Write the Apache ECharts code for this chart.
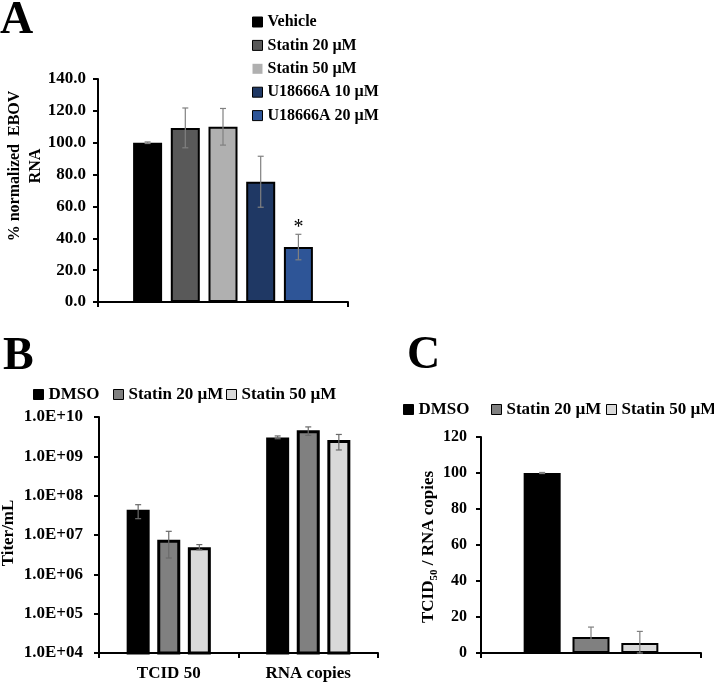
<!DOCTYPE html>
<html>
<head>
<meta charset="utf-8">
<script src="https://cdn.jsdelivr.net/npm/echarts@6/dist/echarts.min.js"></script>
<style>html,body{margin:0;padding:0;background:#fff}#c{width:714px;height:684px}</style>
</head>
<body>
<div id="c"></div>
<script>
// ---------- Panel A data ----------
const catA = [''];
const namesA = ['Vehicle', 'Statin 20 µM', 'Statin 50 µM', 'U18666A 10 µM', 'U18666A 20 µM'];
const valA = [100, 109.3, 110, 75.5, 34.5];
const errA = [0.5, 12.5, 11.5, 16, 8];
const ticksA = [0, 20, 40, 60, 80, 100, 120, 140];

// ---------- Panel B data ----------
const catB = ['TCID 50', 'RNA copies'];
const namesBC = ['DMSO', 'Statin 20 µM', 'Statin 50 µM'];
const valB_DMSO = [4.4e7, 3.0e9];
const valB_S20 = [7.6e6, 4.6e9];
const valB_S50 = [4.9e6, 2.6e9];
const lowB_DMSO = [2.6e7, 2.8e9];
const highB_DMSO = [5.9e7, 3.3e9];
const lowB_S20 = [2.6e6, 3.4e9];
const highB_S20 = [1.24e7, 5.6e9];
const lowB_S50 = [4.2e6, 1.45e9];
const highB_S50 = [5.7e6, 3.6e9];

// ---------- Panel C data ----------
const catC = [''];
const valC = [100, 8.9, 5.5];
const lowC = [99.7, 3.4, 0];
const highC = [100.3, 14.4, 12];

const colorsA = ['#000000', '#595959', '#b0b0b0', '#1f3864', '#2e5597'];
const colorsBC = ['#000000', '#808080', '#d9d9d9'];

const FF = '"Liberation Serif", "Times New Roman", serif';
const txt = (size) => ({ fontFamily: FF, fontWeight: 'bold', fontSize: size, color: '#000' });

function errSeries(xi, yi, i, n, bw, gapFrac, lows, highs, color) {
  const step = bw * (1 + gapFrac);
  const off = (i - (n - 1) / 2) * step;
  return {
    type: 'custom', name: 'err' + xi + '_' + i, xAxisIndex: xi, yAxisIndex: yi, z: 5, silent: true,
    data: lows.map((l, k) => [k, l, highs[k]]),
    encode: { x: 0, y: [1, 2] },
    renderItem(params, api) {
      const a = api.coord([api.value(0), api.value(1)]);
      const b = api.coord([api.value(0), api.value(2)]);
      const x = a[0] + off, c = 3;
      const style = { stroke: color, lineWidth: 1.2 };
      return { type: 'group', children: [
        { type: 'line', shape: { x1: x, y1: a[1], x2: x, y2: b[1] }, style },
        { type: 'line', shape: { x1: x - c, y1: a[1], x2: x + c, y2: a[1] }, style },
        { type: 'line', shape: { x1: x - c, y1: b[1], x2: x + c, y2: b[1] }, style }
      ] };
    }
  };
}

const axisLineStyle = { lineStyle: { color: '#000', width: 2 } };
const axisTickStyle = { show: true, inside: false, length: 5, lineStyle: { color: '#000', width: 2 } };

const series = [];
// Panel A
const bwA = 29, gapA = 0.30;
namesA.forEach((nm, i) => {
  series.push({
    type: 'bar', name: nm, xAxisIndex: 0, yAxisIndex: 0, data: [valA[i]],
    barWidth: bwA, barGap: (gapA * 100) + '%',
    itemStyle: { color: colorsA[i], borderColor: '#000', borderWidth: 2 },
    label: i === 4 ? { show: true, position: 'top', distance: 9, formatter: '*', ...txt(20), fontWeight: 'normal' } : { show: false }
  });
});
namesA.forEach((nm, i) => {
  series.push(errSeries(0, 0, i, 5, bwA, gapA, [valA[i] - errA[i]], [valA[i] + errA[i]], '#808080'));
});
// Panel B
const bwB = 23, gapB = 0.33;
const valsB = [valB_DMSO, valB_S20, valB_S50];
const lowsB = [lowB_DMSO, lowB_S20, lowB_S50];
const highsB = [highB_DMSO, highB_S20, highB_S50];
namesBC.forEach((nm, i) => {
  series.push({
    type: 'bar', name: nm, xAxisIndex: 1, yAxisIndex: 1, data: valsB[i],
    barWidth: bwB, barGap: (gapB * 100) + '%',
    itemStyle: { color: colorsBC[i], borderColor: '#000', borderWidth: 3 }
  });
  series.push(errSeries(1, 1, i, 3, bwB, gapB, lowsB[i], highsB[i], '#6a6a6a'));
});
// Panel C
const bwC = 37, gapC = 0.32;
namesBC.forEach((nm, i) => {
  series.push({
    type: 'bar', name: nm, xAxisIndex: 2, yAxisIndex: 2, data: [valC[i]],
    barWidth: bwC, barGap: (gapC * 100) + '%',
    itemStyle: { color: colorsBC[i], borderColor: '#000', borderWidth: 2 }
  });
  series.push(errSeries(2, 2, i, 3, bwC, gapC, [lowC[i]], [highC[i]], '#808080'));
});

const legendIcon = (color, border) => ({ color, borderColor: '#000', borderWidth: border ? 1 : 0 });

const legends = [
  {
    orient: 'vertical', left: 252, top: 14, padding: 0, itemGap: 7.4, itemWidth: 10, itemHeight: 10, icon: 'rect',
    textStyle: txt(16),
    data: namesA.map((n, i) => ({ name: n, itemStyle: legendIcon(colorsA[i], i !== 2) }))
  }
];
const legBLeft = [33, 113, 226];
const legCLeft = [403, 491, 606];
namesBC.forEach((n, i) => {
  legends.push({ left: legBLeft[i], top: 386, padding: 0, itemWidth: 10, itemHeight: 10, icon: 'rect', textStyle: txt(17),
    data: [{ name: n, itemStyle: legendIcon(colorsBC[i], true) }] });
  legends.push({ left: legCLeft[i], top: 401, padding: 0, itemWidth: 10, itemHeight: 10, icon: 'rect', textStyle: txt(17),
    data: [{ name: n, itemStyle: legendIcon(colorsBC[i], true) }] });
});

const option = {
  animation: false,
  backgroundColor: '#fff',
  legend: legends,
  grid: [
    { left: 98, right: 714 - 348, top: 79, bottom: 684 - 302 },
    { left: 99, right: 714 - 378, top: 417, bottom: 684 - 653 },
    { left: 481, right: 714 - 701, top: 437, bottom: 684 - 653 }
  ],
  xAxis: [
    { type: 'category', gridIndex: 0, data: catA, axisLine: axisLineStyle, axisTick: axisTickStyle, axisLabel: { show: false } },
    { type: 'category', gridIndex: 1, data: catB, axisLine: axisLineStyle, axisTick: axisTickStyle, axisLabel: { ...txt(17), margin: 12 } },
    { type: 'category', gridIndex: 2, data: catC, axisLine: axisLineStyle, axisTick: axisTickStyle, axisLabel: { show: false } }
  ],
  yAxis: [
    { type: 'value', gridIndex: 0, min: ticksA[0], max: ticksA[ticksA.length - 1], interval: 20,
      axisLine: { show: true, ...axisLineStyle }, axisTick: axisTickStyle, splitLine: { show: false },
      axisLabel: { ...txt(17), margin: 12, formatter: v => v.toFixed(1) } },
    { type: 'log', gridIndex: 1, min: 1e4, max: 1e10, logBase: 10, splitNumber: 6,
      axisLine: { show: true, ...axisLineStyle }, axisTick: axisTickStyle, splitLine: { show: false },
      axisLabel: { ...txt(17), margin: 16, formatter: v => {
        const e = Math.round(Math.log10(v));
        return '1.0E+' + (e < 10 ? '0' + e : e);
      } } },
    { type: 'value', gridIndex: 2, min: 0, max: 120, interval: 20,
      axisLine: { show: true, ...axisLineStyle }, axisTick: axisTickStyle, splitLine: { show: false },
      axisLabel: { ...txt(16), margin: 14 } }
  ],
  graphic: [
    { type: 'text', left: 0, top: -2, style: { text: 'A', font: 'bold 46px ' + FF, fill: '#000' } },
    { type: 'text', left: 3, top: 334, style: { text: 'B', font: 'bold 46px ' + FF, fill: '#000' } },
    { type: 'text', left: 407, top: 333, style: { text: 'C', font: 'bold 46px ' + FF, fill: '#000' } },
    { type: 'text', x: 25, y: 166, rotation: Math.PI / 2,
      style: { text: '% normalized  EBOV\nRNA', font: 'bold 16px ' + FF, fill: '#000', align: 'center', verticalAlign: 'middle', lineHeight: 21 } },
    { type: 'text', x: 9, y: 533, rotation: Math.PI / 2,
      style: { text: 'Titer/mL', font: 'bold 17px ' + FF, fill: '#000', align: 'center', verticalAlign: 'middle' } },
    { type: 'text', x: 429, y: 547, rotation: Math.PI / 2,
      style: { text: '{n|TCID}{s|50}{n| / RNA copies}', align: 'center', verticalAlign: 'middle',
        rich: {
          n: { fontFamily: FF, fontWeight: 'bold', fontSize: 17, color: '#000', lineHeight: 22, verticalAlign: 'middle' },
          s: { fontFamily: FF, fontWeight: 'bold', fontSize: 11, color: '#000', lineHeight: 22, verticalAlign: 'bottom', padding: [0, 0, 0, 0] }
        } } }
  ],
  series
};

const chart = echarts.init(document.getElementById('c'), null, { renderer: 'canvas' });
chart.setOption(option);
</script>
</body>
</html>
